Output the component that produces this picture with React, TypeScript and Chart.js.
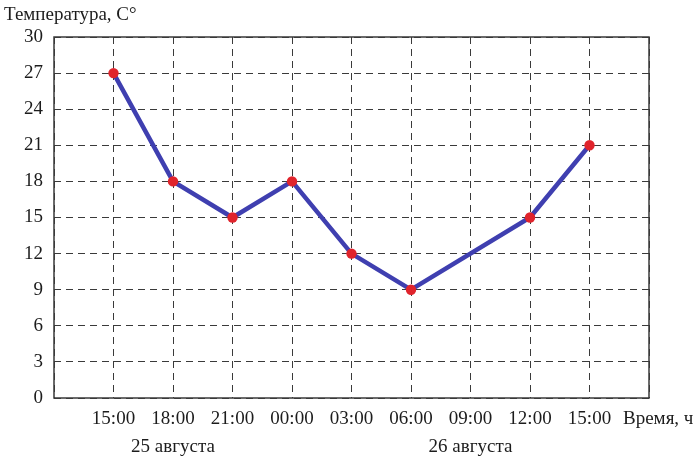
import React, { useEffect, useRef } from "react";
import { Chart, registerables } from "chart.js";

Chart.register(...registerables);

const times = ["15:00", "18:00", "21:00", "00:00", "03:00", "06:00", "09:00", "12:00", "15:00"];
const dates = ["", "25 августа", "", "", "", "", "26 августа", "", ""];
const temperatures: (number | null)[] = [27, 18, 15, 18, 12, 9, null, 15, 21];
const yMin = 0;
const yMax = 30;
const yStep = 3;
const yTitle = "Температура, С°";
const xTitle = "Время, ч";

const FONT = "'Liberation Serif', 'Times New Roman', serif";
const TEXT = "#1c1c1c";
const GRID = "#3a3a3a";

export default function App() {
  const ref = useRef<HTMLCanvasElement | null>(null);

  useEffect(() => {
    if (!ref.current) return;
    const labels = ["", ...times, ""];
    const data = [null, ...temperatures, null];

    const decor = {
      id: "decor",
      beforeDatasetsDraw(chart: any) {
        const { ctx, chartArea: a } = chart;
        ctx.save();
        ctx.strokeStyle = GRID;
        ctx.lineWidth = 1.5;
        ctx.setLineDash([]);
        ctx.strokeRect(a.left, a.top, a.right - a.left, a.bottom - a.top);
        ctx.restore();
      },
      afterDraw(chart: any) {
        const { ctx } = chart;
        ctx.save();
        ctx.fillStyle = TEXT;
        ctx.font = `19px ${FONT}`;
        ctx.textBaseline = "middle";
        ctx.textAlign = "left";
        ctx.fillText(yTitle, 4, 15);
        ctx.fillText(xTitle, 623, 419);
        ctx.restore();
      },
    };

    const chart = new Chart(ref.current, {
      type: "line",
      data: {
        labels,
        datasets: [
          {
            data,
            borderColor: "#3f3fb0",
            borderWidth: 4.5,
            pointBackgroundColor: "#e0242c",
            pointBorderWidth: 0,
            pointRadius: 5.2,
            pointHoverRadius: 5.2,
            spanGaps: true,
            tension: 0,
            clip: false as any,
          },
        ],
      },
      options: {
        animation: false,
        responsive: false,
        maintainAspectRatio: false,
        events: [],
        layout: { padding: { left: 0, top: 37, right: 51, bottom: 0 } },
        plugins: { legend: { display: false }, tooltip: { enabled: false }, title: { display: false } },
        scales: {
          x: {
            type: "category",
            offset: false,
            grid: {
              color: GRID,
              lineWidth: 1,
              drawTicks: false,
            },
            border: { display: false, dash: [7, 5] },
            ticks: {
              autoSkip: false,
              maxRotation: 0,
              padding: 7,
              color: TEXT,
              font: { family: FONT, size: 19, lineHeight: 1.47 },
              callback: (_v: any, i: number) => {
                if (i === 0 || i === labels.length - 1) return "";
                const d = dates[i - 1];
                return d ? [times[i - 1], d] : times[i - 1];
              },
            },
            afterFit: (s: any) => {
              s.height = 61;
            },
          },
          y: {
            min: yMin,
            max: yMax,
            grid: { color: GRID, lineWidth: 1, drawTicks: false },
            border: { display: false, dash: [7, 5] },
            ticks: {
              stepSize: yStep,
              padding: 11,
              color: TEXT,
              font: { family: FONT, size: 19 },
            },
            afterFit: (s: any) => {
              s.width = 54;
            },
          },
        },
      },
      plugins: [decor],
    });
    return () => chart.destroy();
  }, []);

  return (
    <div style={{ position: "fixed", left: 0, top: 0, width: 700, height: 459, background: "#fff" }}>
      <canvas ref={ref} width={700} height={459} style={{ display: "block" }} />
    </div>
  );
}
